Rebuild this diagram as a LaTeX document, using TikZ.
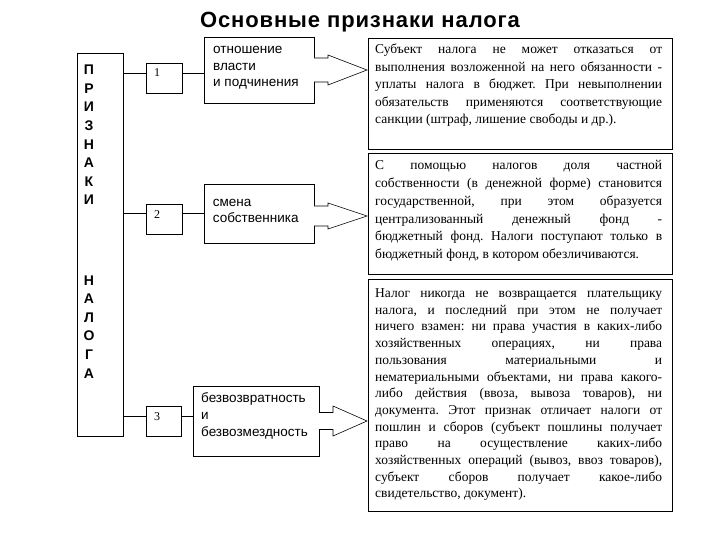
\documentclass[tikz,border=0pt]{standalone}
\usepackage{fontspec}
\setmainfont{Liberation Serif}
\newfontfamily\arialf{Liberation Sans}
\newfontfamily\arialt[LetterSpace=4]{Liberation Sans}
\usetikzlibrary{calc}
\frenchspacing
\begin{document}
\begin{tikzpicture}[x=1pt,y=-1pt]
\tikzset{
 frame/.style={draw=black, line width=0.8pt, inner sep=0pt, outer sep=0pt},
 sanstext/.style={font=\arialf\fontsize{13.5}{#1}\selectfont, align=left, inner sep=0pt, anchor=base west},
 bodytext/.style={font=\fontsize{13.5}{#1}\selectfont, text width=287pt, align=justify, inner sep=0pt, anchor=base west},
 numtext/.style={font=\fontsize{12}{14}\selectfont, inner sep=0pt},
 vletters/.style={font=\arialf\bfseries\fontsize{14}{18.6}\selectfont, align=center, inner sep=0pt, anchor=base},
 link/.style={line width=0.8pt},
 blockarrow/.style={draw=black, line width=0.6pt, fill=white, line join=miter}
}
\useasboundingbox[fill=white] (0,0) rectangle (720,540);

% title
\node[font=\arialt\bfseries\fontsize{22}{26}\selectfont, inner sep=0pt, anchor=base] (title) at (360,28) {Основные признаки налога};

% left tall box
\node[frame, minimum width=46, minimum height=383] (L) at (100,244.5) {};
\node[vletters] (L1) at (89,205) {П\\Р\\И\\З\\Н\\А\\К\\И};
\node[vletters] (L2) at (89,378) {Н\\А\\Л\\О\\Г\\А};

% number boxes
\node[frame, minimum width=36, minimum height=30] (N1) at (164,78) {};
\node[frame, minimum width=36, minimum height=30] (N2) at (164,219) {};
\node[frame, minimum width=35, minimum height=30] (N3) at (163.5,421) {};
\node[numtext] (n1) at (157,73) {1};
\node[numtext] (n2) at (157,215) {2};
\node[numtext] (n3) at (157,417) {3};

% middle boxes
\node[frame, minimum width=110, minimum height=66] (A) at (259,70) {};
\node[frame, minimum width=110, minimum height=59] (B) at (259,213.5) {};
\node[frame, minimum width=126, minimum height=70] (C) at (256,421) {};
\node[sanstext=16.3] (At) at (213,86.5) {отношение\\власти\\и подчинения};
\node[sanstext=16.3] (Bt) at (212.7,222.5) {смена\\собственника};
\node[sanstext=16.8] (Ct) at (201,436.2) {безвозвратность\\и\\безвозмездность};

% right boxes
\node[frame, minimum width=304, minimum height=111] (R1) at (520,93.5) {};
\node[frame, minimum width=304, minimum height=121] (R2) at (520,213.5) {};
\node[frame, minimum width=304, minimum height=232] (R3) at (520,395) {};

\node[bodytext=17.4] (R1t) at (375,54) {Субъект налога не может отказаться от\linebreak
выполнения возложенной на него обязанности -\linebreak
уплаты налога в бюджет. При невыполнении\linebreak
обязательств применяются соответствующие\linebreak
санкции (штраф, лишение свободы и др.).};

\node[bodytext=17.7] (R2t) at (375,170) {С помощью налогов доля частной\linebreak
собственности (в денежной форме) становится\linebreak
государственной, при этом образуется\linebreak
централизованный денежный фонд -\linebreak
бюджетный фонд. Налоги поступают только в\linebreak
бюджетный фонд, в котором обезличиваются.};

\node[bodytext=16.7] (R3t) at (375,297.5) {Налог никогда не возвращается плательщику\linebreak
налога, и последний при этом не получает\linebreak
ничего взамен: ни права участия в каких-либо\linebreak
хозяйственных операциях, ни права\linebreak
пользования материальными и\linebreak
нематериальными объектами, ни права какого-\linebreak
либо действия (ввоза, вывоза товаров), ни\linebreak
документа. Этот признак отличает налоги от\linebreak
пошлин и сборов (субъект пошлины получает\linebreak
право на осуществление каких-либо\linebreak
хозяйственных операций (вывоз, ввоз товаров),\linebreak
субъект сборов получает какое-либо\linebreak
свидетельство, документ).};

% connector lines
\coordinate (y1) at (0,73);
\coordinate (y2) at (0,213);
\coordinate (y3) at (0,416);
\draw[link] (L.east |- y1) -- (N1.west |- y1);
\draw[link] (N1.east |- y1) -- (A.west |- y1);
\draw[link] (L.east |- y2) -- (N2.west |- y2);
\draw[link] (N2.east |- y2) -- (B.west |- y2);
\draw[link] (L.east |- y3) -- (N3.west |- y3);
\draw[link] (N3.east |- y3) -- (C.west |- y3);

% block arrows
\draw[blockarrow] ($(A.east)+(0,-12)$) -- ++(14,0) -- ++(0,-3) -- ($(R1.west |- A.east)+(-1,0)$)
  -- ($(A.east)+(14,15)$) -- ++(0,-3) -- ($(A.east)+(0,12)$);
\coordinate (bc) at ($(B.east)+(0,2.5)$);
\draw[blockarrow] ($(bc)+(0,-10)$) -- ++(14,0) -- ++(0,-3) -- ($(R2.west |- bc)+(-1,0)$)
  -- ($(bc)+(14,13)$) -- ++(0,-3) -- ($(bc)+(0,10)$);
\draw[blockarrow] ($(C.east)+(0,-8.5)$) -- ++(14,0) -- ++(0,-6.5) -- ($(R3.west |- C.east)+(-1,0)$)
  -- ($(C.east)+(14,15)$) -- ++(0,-6.5) -- ($(C.east)+(0,8.5)$);
\end{tikzpicture}
\end{document}
